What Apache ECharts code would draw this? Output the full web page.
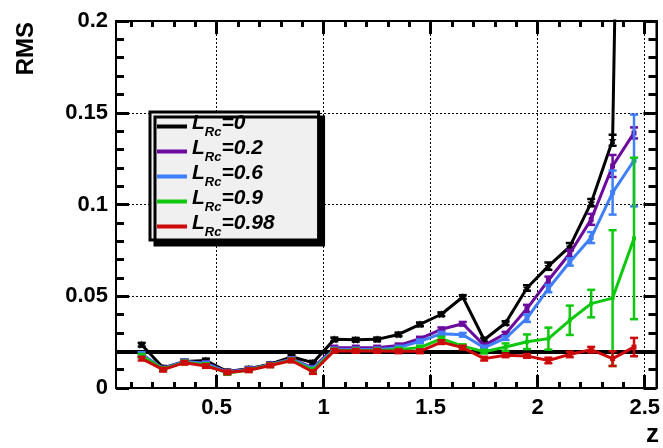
<!DOCTYPE html>
<html><head><meta charset="utf-8">
<script src="https://cdn.jsdelivr.net/npm/echarts@6/dist/echarts.min.js"></script>
<style>html,body{margin:0;padding:0;background:#fff}#c{width:663px;height:448px}</style>
</head><body><div id="c"></div>
<script>
// ---------------- data ----------------
const zBins = [0.15,0.25,0.35,0.45,0.55,0.65,0.75,0.85,0.95,1.05,1.15,1.25,1.35,1.45,1.55,1.65,1.75,1.85,1.95,2.05,2.15,2.25,2.35,2.45];
const rmsL0    = [0.0236,0.011,0.0145,0.015,0.009,0.0105,0.013,0.017,0.0138,0.0265,0.0263,0.0265,0.0292,0.0347,0.0402,0.0496,0.0263,0.0354,0.0545,0.0664,0.077,0.101,0.135,0.8];
const rmsL02   = [0.018,0.0105,0.0145,0.0135,0.0088,0.0102,0.0128,0.0158,0.011,0.022,0.022,0.022,0.0232,0.0269,0.032,0.035,0.0232,0.0296,0.0433,0.0587,0.0733,0.0919,0.121,0.139];
const rmsL06   = [0.0185,0.0105,0.0145,0.0133,0.0087,0.0101,0.0127,0.0156,0.0105,0.021,0.021,0.021,0.022,0.0254,0.0296,0.029,0.022,0.0272,0.038,0.0542,0.0687,0.082,0.1065,0.124];
const rmsL09   = [0.0175,0.0103,0.014,0.0125,0.0082,0.0098,0.0125,0.0152,0.0098,0.0205,0.0205,0.0205,0.021,0.022,0.0269,0.0228,0.0198,0.0223,0.0252,0.0269,0.0369,0.046,0.049,0.0815];
const rmsL098  = [0.016,0.010,0.0138,0.012,0.0085,0.0097,0.0123,0.015,0.0087,0.0203,0.0202,0.0202,0.020,0.020,0.025,0.022,0.016,0.0178,0.0175,0.015,0.0183,0.0209,0.016,0.0223];
const errL0    = [0.001,0.001,0.001,0.001,0.001,0.001,0.001,0.001,0.001,0.001,0.001,0.001,0.001,0.001,0.001,0.001,0.001,0.001,0.0015,0.002,0.002,0.002,0.003,0];
const errL02   = [0.001,0.001,0.001,0.001,0.001,0.001,0.001,0.001,0.001,0.001,0.001,0.001,0.001,0.001,0.001,0.001,0.001,0.001,0.002,0.002,0.002,0.003,0.006,0.003];
const errL06   = [0.001,0.001,0.001,0.001,0.001,0.001,0.001,0.001,0.001,0.001,0.001,0.001,0.001,0.001,0.001,0.001,0.001,0.001,0.002,0.002,0.002,0.003,0.012,0.025];
const errL09   = [0.001,0.001,0.001,0.001,0.001,0.001,0.001,0.001,0.001,0.001,0.001,0.001,0.001,0.001,0.001,0.001,0.001,0.002,0.004,0.006,0.008,0.0075,0.037,0.044];
const errL098  = [0.001,0.001,0.001,0.001,0.001,0.001,0.001,0.001,0.001,0.001,0.001,0.001,0.001,0.001,0.001,0.001,0.001,0.001,0.001,0.0015,0.0015,0.0015,0.004,0.005];
const lrcLabels = ['0','0.2','0.6','0.9','0.98'];
const xMajorTicks = [0.5,1,1.5,2,2.5];
const xMinorTicks = [0.1,0.2,0.3,0.4,0.5,0.6,0.7,0.8,0.9,1.0,1.1,1.2,1.3,1.4,1.5,1.6,1.7,1.8,1.9,2.0,2.1,2.2,2.3,2.4,2.5];
const refLevel = 0.02;
const xRange = [0.03, 2.555];
const yRange = [0, 0.2];
const yStep = 0.05;

// ---------------- styling ----------------
const colors = ['#000000','#6c0a9e','#3f7ffb','#0ec80e','#cc0a0a'];
const rmsSets = [rmsL0, rmsL02, rmsL06, rmsL09, rmsL098];
const errSets = [errL0, errL02, errL06, errL09, errL098];
const starPath = 'path://M0,-10 L2.9,-4 L9.5,-3.1 L4.7,1.5 L5.9,8.1 L0,5 L-5.9,8.1 L-4.7,1.5 L-9.5,-3.1 L-2.9,-4 Z';
const symbols = [starPath,'rect','rect','rect','rect'];
const symSizes = [8,5,5,4,5];
const FONT = 'Liberation Sans, Arial, Helvetica, sans-serif';
const names = lrcLabels.map(v => 'L_Rc=' + v);

function errRender(color){
  return function(params, api){
    const x = api.value(0), y = api.value(1), e = api.value(2);
    if (!(e > 0) || y > yRange[1]) return null;
    const t = api.coord([x, y + e]), b = api.coord([x, y - e]);
    const cap = 4;
    const st = {stroke: color, lineWidth: 2.5};
    return {type:'group', children:[
      {type:'line', shape:{x1:t[0],y1:t[1],x2:b[0],y2:b[1]}, style:st},
      {type:'line', shape:{x1:t[0]-cap,y1:t[1],x2:t[0]+cap,y2:t[1]}, style:st},
      {type:'line', shape:{x1:b[0]-cap,y1:b[1],x2:b[0]+cap,y2:b[1]}, style:st}
    ]};
  };
}

const series = [];
series.push({
  type:'line', name:'vgrid', data:[], z:1, silent:true,
  markLine:{symbol:'none', silent:true, label:{show:false}, animation:false,
    lineStyle:{type:[2,2], width:1, color:'#000'},
    data: xMajorTicks.map(v => ({xAxis:v}))}
});
rmsSets.forEach((arr, i) => {
  series.push({
    type:'line', name:names[i], data: zBins.map((z,k)=>[z, arr[k]]),
    xAxisIndex:0, yAxisIndex:0, clip:true, z:3+i,
    symbol: symbols[i], symbolSize: symSizes[i], showSymbol:true,
    lineStyle:{width:3, color:colors[i]}, itemStyle:{color:colors[i]},
    animation:false
  });
  series.push({
    type:'custom', name:names[i]+' err', xAxisIndex:0, yAxisIndex:0, z:3+i,
    data: zBins.map((z,k)=>[z, arr[k], errSets[i][k]]),
    encode:{x:0, y:1}, renderItem: errRender(colors[i]), clip:true, animation:false
  });
});
series.push({
  type:'line', name:'ref', data:[], z:20, silent:true,
  markLine:{symbol:'none', silent:true, label:{show:false}, animation:false,
    lineStyle:{type:'solid', width:4, color:'#000'},
    data:[{yAxis:refLevel}]}
});

const labelStyle = {fontFamily:FONT, fontSize:22, fontWeight:'bold', color:'#000'};
function xAx(pos, major, showLine){
  return {type:'value', min:xRange[0], max:xRange[1], position:pos, gridIndex:0,
    axisLine:{show:showLine, onZero:false, lineStyle:{color:'#000', width:2}},
    axisTick:{show:true, inside:true, length: major?13:6, customValues: major?xMajorTicks:xMinorTicks, lineStyle:{color:'#000', width:3}},
    axisLabel:Object.assign({show: major && pos==='bottom', margin:9, customValues:xMajorTicks, formatter: v => String(v)}, labelStyle),
    splitLine:{show:false}};
}
function yAx(pos){
  return {type:'value', min:yRange[0], max:yRange[1], interval:yStep, position:pos, gridIndex:0,
    axisLine:{show:true, onZero:false, lineStyle:{color:'#000', width:2}},
    axisTick:{show:true, inside:true, length:13, lineStyle:{color:'#000', width:3}},
    minorTick:{show:true, splitNumber:5, length:8, lineStyle:{color:'#000', width:3}},
    axisLabel:Object.assign({show: pos==='left', margin:8}, labelStyle),
    splitLine:{show: pos==='left', lineStyle:{type:[2,2], width:1, color:'#000'}}};
}

const option = {
  animation:false,
  grid:{left:116, right:4, top:21, bottom:60, show:true, borderColor:'#000', borderWidth:2, backgroundColor:'transparent'},
  xAxis:[xAx('bottom',true,true), xAx('bottom',false,false), xAx('top',true,true), xAx('top',false,false)],
  yAxis:[yAx('left'), yAx('right')],
  legend:{
    data: names.map((n,i)=>({name:n, icon:'rect', itemStyle:{color:colors[i]}})),
    orient:'vertical', left:150, top:112, itemWidth:30, itemHeight:4, itemGap:-2,
    padding:[1,44,0,7], backgroundColor:'#f0f0f0', borderColor:'#000', borderWidth:3,
    shadowColor:'#000', shadowOffsetX:5, shadowOffsetY:5, shadowBlur:0.01,
    selectedMode:false, z:30,
    formatter: n => '{l|L}{s|Rc}{l|=' + n.split('=')[1] + '}',
    textStyle:{rich:{
      l:{fontFamily:FONT, fontSize:21, fontWeight:'bold', fontStyle:'italic', color:'#000', lineHeight:18, padding:[0,0,6,0]},
      s:{fontFamily:FONT, fontSize:13, fontWeight:'bold', fontStyle:'italic', color:'#000', lineHeight:12, padding:[12,0,0,0]}
    }}
  },
  graphic:[
    {type:'text', left:14, top:22, rotation:Math.PI/2, style:{text:'RMS', font:'bold 24px '+FONT, fill:'#000'}},
    {type:'text', right:4, bottom:0, style:{text:'z', font:'bold 26px '+FONT, fill:'#000'}}
  ],
  series: series
};
const chart = echarts.init(document.getElementById('c'), null, {renderer:'canvas'});
chart.setOption(option);
</script></body></html>
